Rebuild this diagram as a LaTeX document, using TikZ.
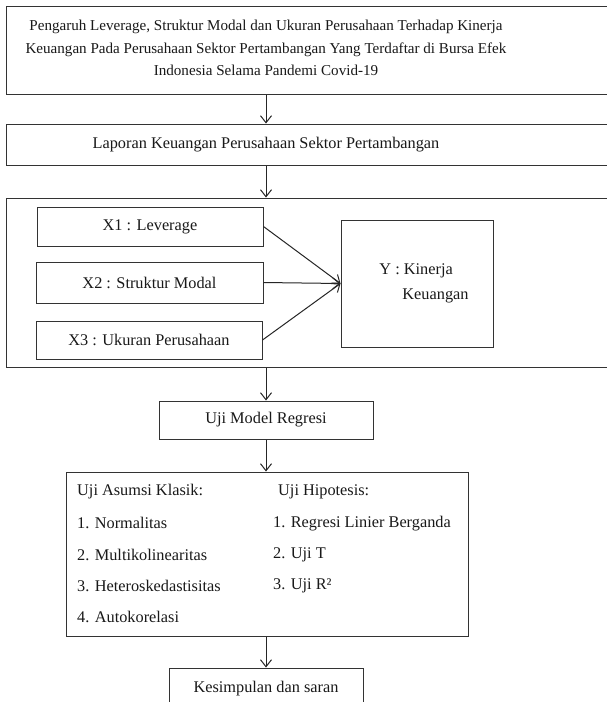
\documentclass[tikz,border=0pt]{standalone}
\usepackage{fontspec}
\setmainfont{Liberation Serif}
\usetikzlibrary{arrows.meta}

\tikzset{
	kotak/.style={draw=black!80, line width=1pt, rectangle, inner sep=0pt},
	teks/.style={inner sep=0pt, text=black!90, font=\fontsize{16.3}{22.5}\selectfont},
	panah/.style={-{Straight Barb[length=7pt,width=11pt]}, line width=1pt, draw=black!85},
}

\begin{document}
\begin{tikzpicture}[x=1pt, y=-1pt]
	\clip (0,0) rectangle (607,702);
	\fill[white] (0,0) rectangle (607,702);
	\coordinate (poros) at (266,0);

	% judul penelitian
	\node[kotak, minimum width=619, minimum height=88] (judul) at (315.5,50) {};
	\node[teks, align=center, font=\fontsize{15.1}{22.5}\selectfont] (judulteks) at (266,48) {Pengaruh Leverage, Struktur Modal dan Ukuran Perusahaan Terhadap Kinerja\\Keuangan Pada Perusahaan Sektor Pertambangan Yang Terdaftar di Bursa Efek\\Indonesia Selama Pandemi Covid-19};

	\node[kotak, minimum width=619, minimum height=41] (laporan) at (315.5,144.5) {};
	\node[teks] (laporanteks) at (266,145) {Laporan Keuangan Perusahaan Sektor Pertambangan};

	% model penelitian
	\node[kotak, minimum width=619, minimum height=169] (model) at (315.5,282.5) {};
	\node[kotak, teks, minimum width=226, minimum height=39] (xa) at (150,226.5) {X1 : Leverage};
	\node[kotak, teks, minimum width=227, minimum height=41] (xb) at (149.5,282.5) {X2 : Struktur Modal};
	\node[kotak, teks, minimum width=226, minimum height=38] (xc) at (149,340) {X3 : Ukuran Perusahaan};
	\node[kotak, teks, minimum width=152, minimum height=127, align=left, font=\fontsize{16.3}{25}\selectfont] (y) at (417,283.5) {\hspace*{14pt}Y : Kinerja\\\hspace*{37pt}Keuangan};
	\foreach \x in {xa,xb,xc}
	\draw[panah] (\x.east) -- (y.west);

	\node[kotak, teks, minimum width=214, minimum height=38] (uji) at (266,420) {Uji Model Regresi};

	% pengujian
	\node[kotak, minimum width=402, minimum height=164] (pengujian) at (267,554) {};
	\foreach \teks [count=\i] in {Uji Asumsi Klasik:, 1. Normalitas, 2. Multikolinearitas, 3. Heteroskedastisitas, 4. Autokorelasi}
	\node[teks, anchor=west] (asumsi\i) at (77,{492+(\i-1)*31.25}) {\teks};
	\node[teks, anchor=west] (hipotesis0) at (278,492) {Uji Hipotesis:};
	\foreach \teks [count=\i] in {1. Regresi Linier Berganda, 2. Uji T, 3. Uji R²}
	\node[teks, anchor=west] (hipotesis\i) at (273,{492+\i*31.25}) {\teks};

	\node[kotak, teks, minimum width=194, minimum height=42] (simpulan) at (266,689) {Kesimpulan dan saran};

	\draw[panah] (judul.south -| poros) -- (laporan.north -| poros);
	\draw[panah] (laporan.south -| poros) -- (model.north -| poros);
	\draw[panah] (model.south -| poros) -- (uji.north -| poros);
	\draw[panah] (uji.south -| poros) -- (pengujian.north -| poros);
	\draw[panah] (pengujian.south -| poros) -- (simpulan.north -| poros);
\end{tikzpicture}
\end{document}
